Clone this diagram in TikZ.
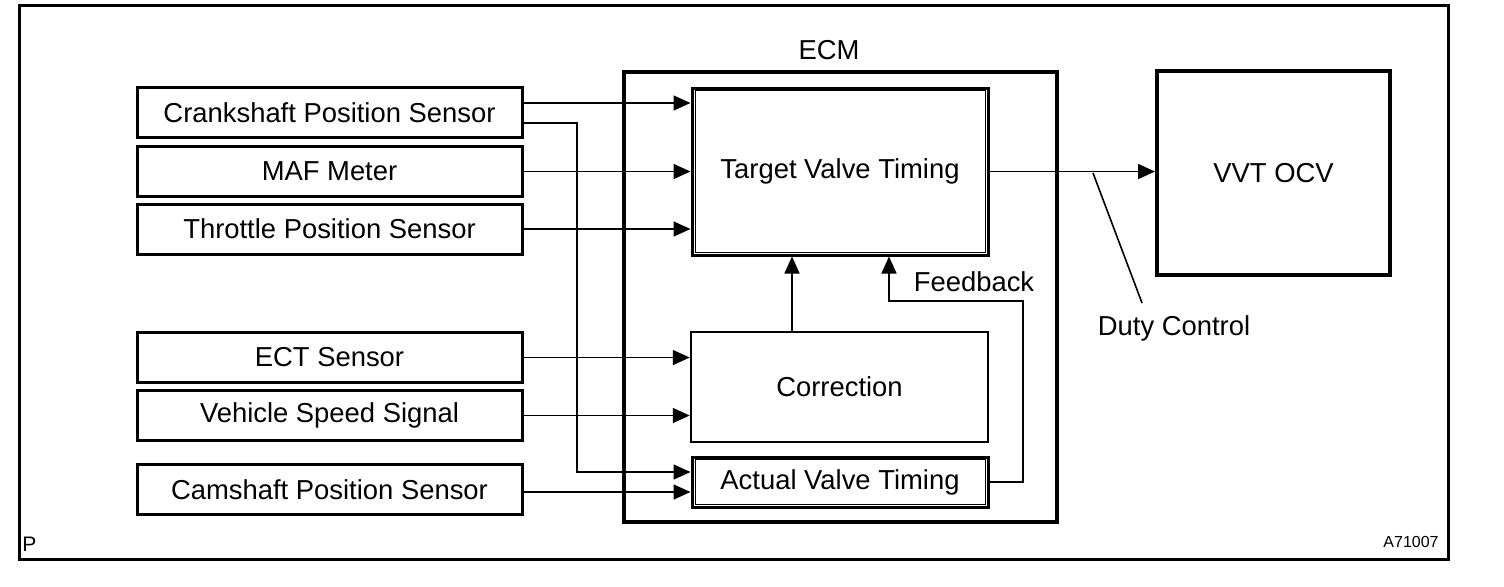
\documentclass[tikz,border=0pt]{standalone}
\usepackage{fontspec}
\setmainfont{Liberation Sans}
\usetikzlibrary{arrows.meta,calc}
\begin{document}
\begin{tikzpicture}[x=0.5pt,y=-0.5pt,
  lbl/.style={font=\fontsize{13.7}{16}\selectfont},
  small/.style={font=\fontsize{8}{10}\selectfont},
  sensor/.style={draw,line width=1.5pt,minimum width=192.5pt,minimum height=25pt,inner sep=0pt,lbl},
  blk/.style={draw,line width=1.5pt,inner sep=0pt,lbl},
  inner/.style={line width=0.5pt},
  arr/.style={line width=0.8pt,-{Triangle[length=8.5pt,width=7.5pt]}},
  thinl/.style={line width=0.8pt}]
\useasboundingbox (0,0) rectangle (1504,586);
% outer frame
\draw[line width=1.5pt] (19,5) rectangle (1448,559);
\node[font=\fontsize{10.5}{12}\selectfont,anchor=center] (pmark) at (29.5,544.5) {P};
\node[small,anchor=center] (code) at (1411,542) {A71007};
% ECM
\node[draw,line width=2pt,minimum width=216.5pt,minimum height=225pt,inner sep=0pt] (ecm) at (840.5,297) {};
\node[lbl] (ecmlbl) at (829,50) {ECM};
% sensors
\node[sensor] (crank) at (329.5,112.5) {Crankshaft Position Sensor};
\node[sensor] (maf) at (329.5,171.5) {MAF Meter};
\node[sensor] (tps) at (329.5,229) {Throttle Position Sensor};
\node[sensor] (ect) at (329.5,357.5) {ECT Sensor};
\node[sensor] (vss) at (329.5,415.5) {Vehicle Speed Signal};
\node[sensor] (cmp) at (329.5,489.5) {Camshaft Position Sensor};
% ECM blocks
\node[blk,minimum width=148pt,minimum height=83.5pt] (tvt) at (840,171.5) {\raisebox{-2pt}{Target Valve Timing}};
\draw[inner] ($(tvt.north west)+(5,4)$) rectangle ($(tvt.south east)+(-4,-4)$);
\node[blk,line width=1.25pt,minimum width=148.5pt,minimum height=55pt] (corr) at (839.5,387) {Correction};
\node[blk,minimum width=148pt,minimum height=25pt] (act) at (840,482) {Actual Valve Timing};
\draw[inner] ($(act.north west)+(5,4)$) rectangle ($(act.south east)+(-4,-4)$);
% VVT OCV
\node[draw,line width=2pt,minimum width=116.5pt,minimum height=102pt,inner sep=0pt,lbl] (vvt) at (1273.5,173) {VVT OCV};
% sensor arrows
\coordinate (c1) at ($(crank.east)+(0,-9.5)$);
\coordinate (c2) at ($(crank.east)+(0,10.5)$);
\coordinate (c2b) at (577,123);
\coordinate (c2c) at (577,472);
\coordinate (cm) at ($(cmp.east)+(0,2.5)$);
\draw[arr] (c1) -- (c1 -| tvt.west);
\draw[arr] (maf.east) -- (maf.east -| tvt.west);
\draw[arr] (tps.east) -- (tps.east -| tvt.west);
\draw[arr] (ect.east) -- (ect.east -| corr.west);
\draw[arr] (vss.east) -- (vss.east -| corr.west);
\draw[arr] (c2) -- (c2b) -- (c2c) -- (c2c -| act.west);
\draw[arr] (cm) -- (cm -| act.west);
% correction to target
\coordinate (cu) at ($(corr.north)+(-47.5,0)$);
\draw[arr] (cu) -- (cu |- tvt.south);
% feedback
\coordinate (fbr) at (1023,301);
\coordinate (fbl) at (889,301);
\draw[arr] (act.east) -| (fbr) -- (fbl) -- (fbl |- tvt.south);
\node[lbl] (fblbl) at (974,282) {Feedback};
% output
\draw[arr] (tvt.east) -- (tvt.east -| vvt.west);
\node[lbl] (dc) at (1174,328) {Duty Control};
\coordinate (dcs) at (1093,173);
\coordinate (dce) at (1142,303);
\draw[thinl] (dcs) -- (dce);
\end{tikzpicture}
\end{document}
